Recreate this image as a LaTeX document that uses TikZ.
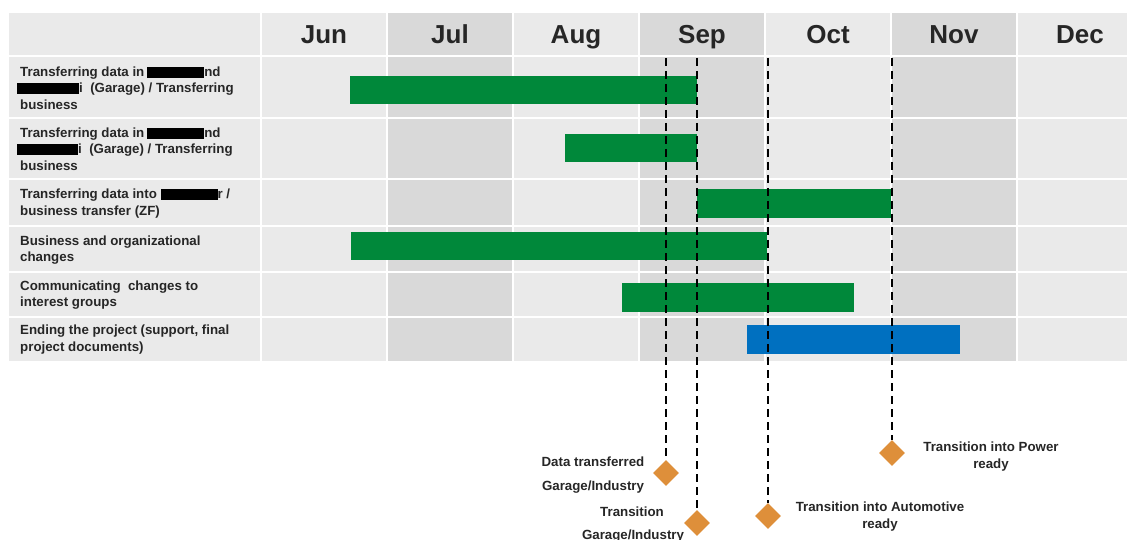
\documentclass[tikz,border=0pt]{standalone}
\usepackage{fontspec}
\setmainfont{Liberation Sans}
\usetikzlibrary{shapes.geometric}

\definecolor{celllight}{HTML}{EAEAEA}
\definecolor{celldark}{HTML}{D9D9D9}
\definecolor{ganttgreen}{HTML}{00883A}
\definecolor{ganttblue}{HTML}{0070C0}
\definecolor{msorange}{HTML}{DE8F3A}
\definecolor{labeltext}{HTML}{262626}

% black bar that hides a word
\newcommand\redact[1]{{\color{black}\rule[-1.5pt]{#1pt}{11pt}}}

\tikzset{
  cell/.style={draw=white, line width=2pt},
  month/.style={font=\bfseries\fontsize{26}{30}\selectfont, text=labeltext, inner sep=0pt, anchor=base},
  rowlabel/.style={font=\bfseries\fontsize{13.3}{16.5}\selectfont, text=labeltext,
                   align=left, anchor=west, inner sep=0pt},
  bar/.style={anchor=north west, inner sep=0pt, draw=none},
  milestoneline/.style={draw=black, line width=2pt, dash pattern=on 8pt off 5pt},
  milestone/.style={diamond, fill=msorange, draw=none, inner sep=0pt, minimum size=26pt},
  mslabel/.style={font=\bfseries\fontsize{13.3}{17}\selectfont, text=labeltext,
                  align=center, inner sep=0pt},
}

\begin{document}
\begin{tikzpicture}[x=1pt, y=-1pt]
\useasboundingbox (0,0) rectangle (1127,540);

% table cells: label column plus one column per month
\foreach \ya/\yb in {12/56,56/118,118/179,179/226,226/272,272/317,317/362}{
  \filldraw[cell, fill=celllight] (8,\ya) rectangle (261,\yb);
  \foreach \xa/\c in {261/celllight,387/celldark,513/celllight,639/celldark,
                      765/celllight,891/celldark,1017/celllight}{
    \filldraw[cell, fill=\c] (\xa,\ya) rectangle (\xa+126,\yb);
  }
}

% month headings
\node[month] (jun) at (324,44) {Jun};
\node[month] (jul) at (450,44) {Jul};
\node[month] (aug) at (576,44) {Aug};
\node[month] (sep) at (702,44) {Sep};
\node[month] (oct) at (828,44) {Oct};
\node[month] (nov) at (954,44) {Nov};
\node[month] (dec) at (1080,44) {Dec};

% task labels
\node[rowlabel] (t1) at (20,88) {Transferring data in\hspace{3pt}\redact{57}nd\\
  \hspace*{-3pt}\redact{62}i~~(Garage) / Transferring\\business};
\node[rowlabel] (t2) at (20,149) {Transferring data in\hspace{3pt}\redact{57}nd\\
  \hspace*{-3pt}\redact{61}i~~(Garage) / Transferring\\business};
\node[rowlabel] (t3) at (20,203.5) {Transferring data into \redact{57}r /\\business transfer (ZF)};
\node[rowlabel] (t4) at (20,250) {Business and organizational\\changes};
\node[rowlabel] (t5) at (20,295) {Communicating~ changes to\\interest groups};
\node[rowlabel] (t6) at (20,339.5) {Ending the project (support, final\\project documents)};

% task bars
\node[bar, fill=ganttgreen, minimum width=347, minimum height=28] (b1) at (350,76) {};
\node[bar, fill=ganttgreen, minimum width=132, minimum height=28] (b2) at (565,134) {};
\node[bar, fill=ganttgreen, minimum width=194, minimum height=29] (b3) at (697,189) {};
\node[bar, fill=ganttgreen, minimum width=416, minimum height=28] (b4) at (351,232) {};
\node[bar, fill=ganttgreen, minimum width=232, minimum height=29] (b5) at (622,283) {};
\node[bar, fill=ganttblue,  minimum width=213, minimum height=29] (b6) at (747,325) {};

% milestones
\node[milestone] (m1) at (666,473) {};
\node[milestone] (m2) at (697,523) {};
\node[milestone] (m3) at (768,516) {};
\node[milestone] (m4) at (892,453) {};

\coordinate (c1) at (666,58);
\coordinate (c2) at (697,58);
\coordinate (c3) at (768,58);
\coordinate (c4) at (892,58);
\draw[milestoneline] (c1) -- (m1.north);
\draw[milestoneline] (c2) -- (m2.north);
\draw[milestoneline] (c3) -- (m3.north);
\draw[milestoneline] (c4) -- (m4.north);

% milestone captions
\node[mslabel] (l1a) at (593,462) {Data transferred};
\node[mslabel] (l1b) at (593,487) {Garage/Industry};
\node[mslabel] (l2a) at (632,512) {Transition};
\node[mslabel] (l2b) at (633,536) {Garage/Industry};
\node[mslabel] (l3) at (880,516.5) {Transition into Automotive\\ready};
\node[mslabel] (l4) at (991,457) {Transition into Power\\ready};
\end{tikzpicture}
\end{document}
